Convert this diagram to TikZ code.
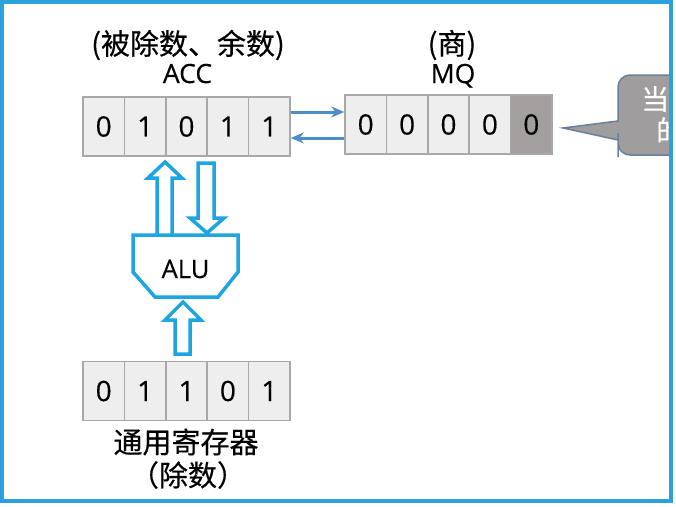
\documentclass[tikz,border=0pt]{standalone}
\usepackage{fontspec}
\setmainfont{Open Sans}[FakeBold=0.35]
\newfontfamily\cjk{Noto Sans CJK SC}[FakeBold=0.35]
\usetikzlibrary{arrows.meta,calc}

\definecolor{framec}{HTML}{2CA2DD}
\definecolor{cellfill}{HTML}{EEEEEE}
\definecolor{celldraw}{HTML}{A8A8A8}
\definecolor{celldark}{HTML}{A39F9F}
\definecolor{linkc}{HTML}{4C8DCC}
\definecolor{aluc}{HTML}{1DA5E2}
\definecolor{bubblefill}{HTML}{9F9D9E}
\definecolor{bubbledraw}{HTML}{66809B}

\tikzset{
  cell/.style={draw=celldraw, line width=1.5pt, fill=cellfill,
    minimum width=41.4pt, minimum height=59pt, inner sep=0pt,
    font=\fontsize{28}{28}\selectfont},
  darkcell/.style={cell, fill=celldark},
  link/.style={draw=linkc, line width=3pt, -{Stealth[length=13pt,width=11pt]}},
  bus/.style={draw=aluc, line width=3.5pt, fill=white, line join=miter},
  txt/.style={inner sep=0pt},
  cjktxt/.style={inner sep=0pt, font=\cjk\fontsize{29}{29}\selectfont},
  lattxt/.style={inner sep=0pt, anchor=base, font=\fontsize{26.5}{26.5}\selectfont},
}

\begin{document}
\begin{tikzpicture}[x=1pt,y=-1pt]
\useasboundingbox (0,0) rectangle (676,506);
\fill[white] (0,0) rectangle (676,506);

% accumulator ACC
\foreach \i/\v in {1/0,2/1,3/0,4/1,5/1}
  \node[cell] (acc\i) at ({83+41.4*(\i-0.5)},126.5) {\v};
% quotient register MQ (last bit shaded)
\foreach \i in {1,...,4}
  \node[cell] (mq\i) at ({345+41.4*(\i-0.5)},124.5) {0};
\node[darkcell] (mq5) at ({345+41.4*4.5},124.5) {0};
% general purpose register
\foreach \i/\v in {1/0,2/1,3/1,4/0,5/1}
  \node[cell] (gr\i) at ({83+41.4*(\i-0.5)},391) {\v};

% register labels
\node[cjktxt] (acctitle) at (188,45) {(被除数、余数)};
\node[lattxt] (accname) at (187.5,83) {ACC};
\node[cjktxt] (mqtitle) at (452,45) {(商)};
\node[lattxt] (mqname) at (453,83) {MQ};
\node[cjktxt] (grname) at (186,442) {通用寄存器};
\node[cjktxt] (grnote) at (188,475) {（除数）};

% shift paths between ACC and MQ
\draw[link] ([yshift=14.5pt]acc5.east) -- ([yshift=12.5pt]mq1.west);
\draw[link] ([yshift=-13.5pt]mq1.west) -- ([yshift=-11.5pt]acc5.east);

% hollow data-path arrows
\draw[bus] (157,235) -- (157,178) -- (148,178) -- (165,162) -- (182,178) -- (172,178) -- (172,235);
\draw[bus] (198,163) -- (198,218) -- (190,218) -- (207,233) -- (224,218) -- (214,218) -- (214,163) -- cycle;
\draw[bus] (175,354) -- (175,320) -- (165,320) -- (183,302) -- (201,320) -- (190,320) -- (190,354) -- cycle;

% ALU
\draw[bus] (133,235) -- (238,235) -- (238,272) -- (218,297) -- (155,297) -- (133,272) -- cycle;
\node[lattxt, font=\fontsize{25.5}{25.5}\selectfont] (alu) at (185.5,278) {ALU};

% callout bubble, cut by the frame
\begin{scope}
  \clip (0,0) rectangle (671,506);
  \draw[fill=bubblefill, draw=bubbledraw, line width=1.5pt]
    (563,128) -- (618,121) -- (618,100) [rounded corners=12pt] -- (618,75)
    -- (700,75) -- (700,155) -- (618,155) -- (618,145) [sharp corners]
    -- (618,140) -- cycle;
  \node[txt, anchor=west, text=white, font=\cjk\fontsize{28}{28}\selectfont] (bub1) at (641,99) {当};
  \node[txt, anchor=west, text=white, font=\cjk\fontsize{28}{28}\selectfont] (bub2) at (656,130) {的};
\end{scope}

% slide frame
\draw[framec, line width=3.5pt] (2,2) rectangle (671,501);
\end{tikzpicture}
\end{document}
